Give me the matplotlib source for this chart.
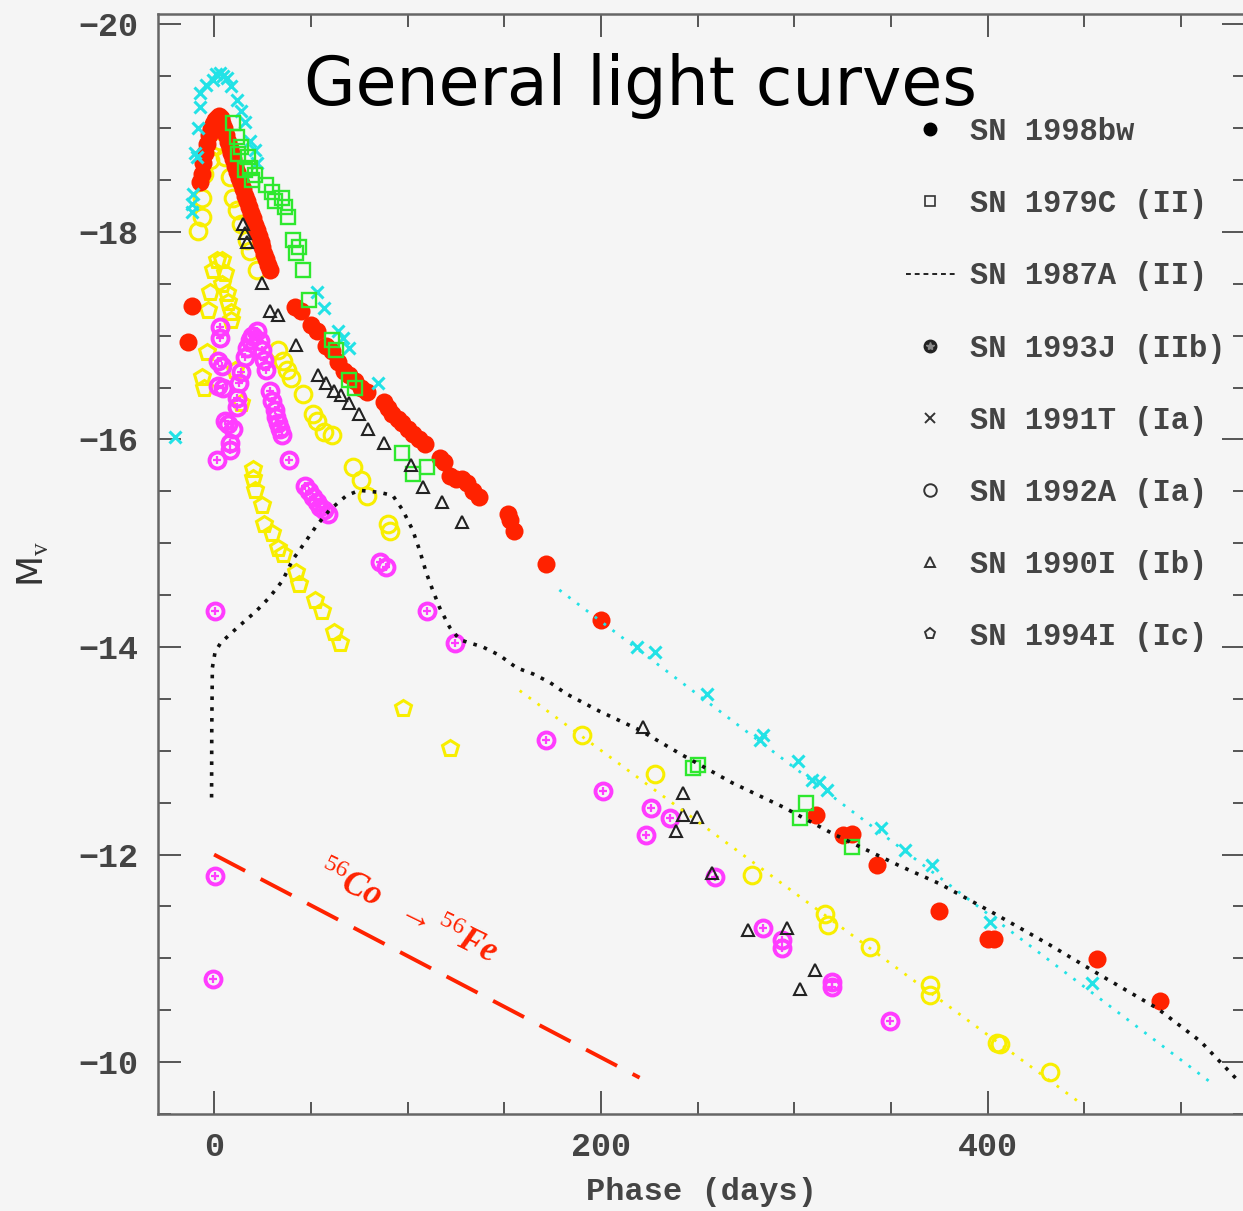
import numpy as np
import matplotlib
matplotlib.use("Agg")
import matplotlib.pyplot as plt
from matplotlib.lines import Line2D
from matplotlib.ticker import MultipleLocator

# ==============================
# Data (phase in days, absolute V magnitude)
# ==============================
sn1998bw = np.array([
    [-13.7, -16.94], [-11.6, -17.29], [-7.5, -18.48], [-6.5, -18.56], [-5.5, -18.66],
    [-4.5, -18.76], [-3.5, -18.85], [-2.5, -18.93], [-1.5, -18.99], [-0.5, -19.04],
    [0.5, -19.08], [1.5, -19.10], [2.5, -19.12], [3.5, -19.10], [4, -19.05],
    [5, -19.00], [6, -18.93], [7, -18.87], [8, -18.81], [9, -18.76],
    [10, -18.70], [11, -18.64], [12, -18.58], [13, -18.52], [14, -18.47],
    [15, -18.41], [16, -18.35], [17, -18.30], [18, -18.24], [19, -18.18],
    [20, -18.13], [21, -18.07], [22, -18.02], [23, -17.96], [24, -17.90],
    [25, -17.85], [26, -17.79], [27, -17.74], [28, -17.68], [29, -17.63],
    [42, -17.28], [45, -17.24], [50, -17.10], [53, -17.05], [58, -16.90],
    [61, -16.85], [64, -16.75], [67, -16.66], [70, -16.62], [73, -16.56],
    [76, -16.50], [79, -16.46], [88, -16.36], [90, -16.30], [92, -16.25],
    [95, -16.20], [97, -16.16], [100, -16.10], [103, -16.05], [106, -16.00],
    [109, -15.96], [117, -15.82], [119, -15.78], [122, -15.65], [125, -15.62],
    [128, -15.62], [131, -15.58], [134, -15.50], [137, -15.45], [152, -15.28],
    [153, -15.22], [155, -15.12], [171.5, -14.80], [200, -14.26], [311, -12.38],
    [325, -12.19], [330, -12.20], [342.5, -11.90], [375, -11.46], [400, -11.19],
    [403, -11.19], [456.5, -10.99], [489, -10.59],
])

sn1979c = np.array([
    [9.6, -19.05], [11.6, -18.91], [12.5, -18.75], [14, -18.82], [16, -18.60],
    [17.3, -18.72], [18.4, -18.62], [19.4, -18.50], [21, -18.55], [27, -18.45],
    [29.7, -18.38], [31.3, -18.30], [35, -18.33], [36.5, -18.24], [38, -18.14],
    [40.6, -17.92], [42.6, -17.80], [44, -17.85], [45.8, -17.63], [49, -17.34],
    [61, -16.96], [63, -16.86], [70, -16.57], [72.7, -16.50], [97, -15.87],
    [103, -15.67], [110, -15.73], [247.5, -12.83], [250, -12.86], [303, -12.35],
    [306, -12.50], [330, -12.07],
])

sn1991t = np.array([
    [-20.4, -16.02], [-11.6, -18.19], [-11.6, -18.27], [-11, -18.37], [-10, -18.76],
    [-9, -18.72], [-8.5, -19.00], [-7.5, -19.20], [-7.5, -19.34], [-4, -19.42],
    [-0.8, -19.46], [1, -19.52], [2.8, -19.53], [4.5, -19.50], [6.5, -19.48],
    [9, -19.41], [11.6, -19.27], [14, -19.17], [15.8, -19.06], [18.4, -18.88],
    [21, -18.79], [22, -18.66], [53, -17.42], [57, -17.27], [64, -17.05],
    [66.6, -16.98], [70, -16.88], [84.7, -16.54], [218.5, -14.00], [228, -13.95],
    [254.6, -13.55], [282, -13.10], [283.7, -13.15], [302, -12.90], [309, -12.72],
    [313, -12.70], [317, -12.62], [345, -12.26], [357, -12.04], [371, -11.90],
    [401, -11.35], [454, -10.76],
])

sn1993j = np.array([
    [-0.7, -10.80], [0.3, -11.79], [0.3, -14.35], [1.3, -15.80], [1.8, -16.52],
    [1.8, -16.76], [2.8, -16.98], [2.8, -17.08], [3.9, -16.71], [4.4, -16.50],
    [5.4, -16.18], [7, -16.15], [8, -15.97], [8, -15.90], [10, -16.10],
    [11.6, -16.31], [12, -16.40], [13, -16.54], [14, -16.65], [15.8, -16.79],
    [17, -16.88], [18.4, -16.96], [19.5, -17.00], [20, -17.00], [22, -17.05],
    [23.5, -16.95], [25, -16.86], [26, -16.77], [27, -16.67], [28.7, -16.47],
    [30, -16.37], [31.3, -16.28], [32, -16.22], [33, -16.16], [34, -16.10],
    [35, -16.04], [38.5, -15.80], [47, -15.55], [49, -15.50], [51, -15.45],
    [53, -15.40], [55, -15.35], [57, -15.32], [59, -15.28], [85.6, -14.82],
    [89, -14.77], [110, -14.35], [124.5, -14.04], [171.5, -13.10], [201, -12.61],
    [223.5, -12.19], [226, -12.45], [235.5, -12.35], [259, -11.78], [284, -11.29],
    [293.5, -11.18], [293.5, -11.10], [319.5, -10.77], [319.5, -10.72], [349.5, -10.40],
])

sn1992a = np.array([
    [-8.5, -18.01], [-6.5, -18.14], [-6, -18.33], [-5, -18.56], [-2.3, -18.69],
    [0.3, -18.83], [2.8, -18.88], [5.4, -18.72], [8, -18.53], [9.6, -18.33],
    [12, -18.21], [14, -18.08], [16.8, -17.92], [18.4, -17.82], [22, -17.63],
    [33, -16.86], [35.4, -16.76], [37.5, -16.67], [40, -16.59], [45.8, -16.44],
    [51, -16.25], [53, -16.18], [57, -16.07], [61, -16.04], [71.7, -15.73],
    [76, -15.61], [79, -15.46], [89.8, -15.19], [91, -15.12], [190, -13.15],
    [228, -12.78], [278, -11.80], [316, -11.43], [317.5, -11.32], [339, -11.11],
    [370, -10.74], [370, -10.65], [405, -10.18], [406.5, -10.17], [432, -9.90],
])

sn1994i = np.array([
    [-6, -16.60], [-5, -16.50], [-3.9, -16.84], [-3.3, -17.25], [-2.3, -17.42],
    [-0.8, -17.63], [1.3, -17.73], [3.9, -17.73], [3.9, -17.50], [5.4, -17.60],
    [6.5, -17.41], [7, -17.32], [9, -17.23], [9, -17.15], [10.6, -16.67],
    [14, -16.35], [20, -15.72], [20, -15.63], [21, -15.51], [25, -15.37],
    [26, -15.19], [30, -15.10], [33, -14.95], [35.4, -14.90], [42.6, -14.72],
    [44, -14.61], [52, -14.45], [55.6, -14.35], [62, -14.14], [65, -14.04],
    [97.5, -13.41], [121.8, -13.03],
])

sn1990i = np.array([
    [15, -18.08], [15.8, -17.99], [16.8, -17.90], [24.6, -17.51], [28.7, -17.24],
    [33, -17.20], [42.6, -16.91], [53.5, -16.62], [58, -16.54], [62, -16.47],
    [65.7, -16.43], [70, -16.35], [75, -16.25], [79.5, -16.10], [88, -15.97],
    [102, -15.75], [108, -15.54], [118, -15.40], [128, -15.20], [222, -13.23],
    [239, -12.23], [242.5, -12.59], [242.5, -12.38], [249.5, -12.36], [257.5, -11.82],
    [276, -11.27], [296, -11.29], [303, -10.70], [310.8, -10.89],
])

sn1987a = np.array([
    [-1.3, -12.55], [-1.2, -13.20], [-0.9, -13.80], [0.5, -13.95], [3.4, -14.04],
    [11.6, -14.18], [22, -14.35], [28.7, -14.48], [35.4, -14.64], [40.6, -14.84],
    [47.8, -15.03], [53, -15.17], [59.7, -15.32], [68.5, -15.46], [75.2, -15.51],
    [85.6, -15.49], [92.4, -15.46], [97.5, -15.32], [102.6, -15.13], [106.3, -14.93],
    [109.8, -14.71], [113, -14.55], [116.6, -14.38], [121.8, -14.19], [127, -14.07],
    [139, -14.00], [147.6, -13.92], [156.4, -13.80], [165, -13.74], [173.5, -13.66],
    [182, -13.55], [199.4, -13.38], [220, -13.20], [242, -12.96], [268, -12.69],
    [294, -12.46], [320, -12.20], [354.6, -11.89], [375, -11.72], [402.6, -11.44],
    [432, -11.13], [458, -10.84], [487.5, -10.52], [510, -10.20], [530, -9.81],
])

# tail fits and radioactive decay slope
fit_1991t = np.array([[178.5, -14.55], [517, -9.78]])
fit_1992a = np.array([[158, -13.58], [449, -9.59]])
co_decay = np.array([[0, -12.0], [220, -9.85]])

labels = ["SN 1998bw", "SN 1979C (II)", "SN 1987A (II)", "SN 1993J (IIb)",
          "SN 1991T (Ia)", "SN 1992A (Ia)", "SN 1990I (Ib)", "SN 1994I (Ic)"]

# ==============================
# Style
# ==============================
bg = "#f5f5f5"
red = "#ff2200"
green = "#2ee82e"
cyan = "#22e2e6"
yellow = "#f8ee00"
magenta = "#ff3cff"
txt = "#333333"
mono = ["Liberation Mono", "DejaVu Sans Mono"]

plt.rcParams["mathtext.fontset"] = "custom"
plt.rcParams["mathtext.rm"] = "Liberation Serif"
plt.rcParams["mathtext.it"] = "Liberation Serif:italic:bold"

fig = plt.figure(figsize=(12.43, 12.11), dpi=100, facecolor=bg)
ax = fig.add_axes([158 / 1243, 1 - 1114 / 1211, 1087 / 1243, 1100 / 1211])
ax.set_facecolor(bg)

# ==============================
# Plot series
# ==============================
ax.plot(sn1994i[:, 0], sn1994i[:, 1], "p", mfc="none", mec=yellow, ms=12, mew=2.2)
ax.plot(sn1992a[:, 0], sn1992a[:, 1], "o", mfc="none", mec=yellow, ms=12, mew=2.2)
ax.plot(sn1993j[:, 0], sn1993j[:, 1], "o", mfc="none", mec=magenta, ms=11.5, mew=2.8)
ax.plot(sn1993j[:, 0], sn1993j[:, 1], "+", color=magenta, ms=6, mew=1.6)
ax.plot(sn1998bw[:, 0], sn1998bw[:, 1], "o", color=red, ms=13, mew=0)
ax.plot(sn1991t[:, 0], sn1991t[:, 1], "x", color=cyan, ms=9, mew=2.2)
ax.plot(sn1979c[:, 0], sn1979c[:, 1], "s", mfc="none", mec=green, ms=9.5, mew=1.7)
ax.plot(sn1990i[:, 0], sn1990i[:, 1], "^", mfc="none", mec="#222222", ms=9, mew=1.5)

ax.plot(sn1987a[:, 0], sn1987a[:, 1], color="#111111", lw=2.6, ls=(0, (1, 2)))
ax.plot(fit_1991t[:, 0], fit_1991t[:, 1], color=cyan, lw=2, ls=(0, (1, 3)))
ax.plot(fit_1992a[:, 0], fit_1992a[:, 1], color=yellow, lw=2, ls=(0, (1, 3)))
ax.plot(co_decay[:, 0], co_decay[:, 1], color=red, lw=2.8, ls=(0, (9, 4.5)))

ax.text(100, -11.45, r"$^{56}Co\ \ \rightarrow^{56}Fe$", color=red, fontsize=25,
        rotation=-26, rotation_mode="anchor", ha="center", va="center")

# ==============================
# Axes
# ==============================
ax.set_xlim(-29, 533)
ax.set_ylim(-9.5, -20.1)
ax.xaxis.set_major_locator(MultipleLocator(200))
ax.xaxis.set_minor_locator(MultipleLocator(50))
ax.yaxis.set_major_locator(MultipleLocator(2))
ax.yaxis.set_minor_locator(MultipleLocator(0.5))
ax.tick_params(which="both", direction="in", top=True, right=True,
               color="#555555", width=1.4)
ax.tick_params(which="major", length=16.5)
ax.tick_params(which="minor", length=9)
ax.tick_params(axis="x", pad=13)
ax.tick_params(axis="y", pad=14)
for lab in ax.get_xticklabels() + ax.get_yticklabels():
    lab.set_family(mono)
    lab.set_fontsize(24)
    lab.set_weight("bold")
    lab.set_color("#444444")
for s in ax.spines.values():
    s.set_color("#666666")
    s.set_linewidth(1.8)

ax.set_xlabel("Phase (days)", family=mono, fontsize=23, weight="bold",
              color="#444444", labelpad=10)
ax.set_ylabel(r"M$_{\rm v}$", fontsize=26, color=txt, labelpad=20)

# ==============================
# Legend
# ==============================
handles = [
    Line2D([], [], ls="none", marker="o", color="k", ms=9),
    Line2D([], [], ls="none", marker="s", mfc="none", mec="#333333", ms=7, mew=1.2),
    Line2D([], [], color="#222222", lw=1.4, ls=(0, (2.5, 2))),
    (Line2D([], [], ls="none", marker="o", color="#222222", ms=9),
     Line2D([], [], ls="none", marker="*", color="#888888", ms=6)),
    Line2D([], [], ls="none", marker="x", color="#333333", ms=7, mew=1.4),
    Line2D([], [], ls="none", marker="o", mfc="none", mec="#333333", ms=9, mew=1.4),
    Line2D([], [], ls="none", marker="^", mfc="none", mec="#333333", ms=7, mew=1.4),
    Line2D([], [], ls="none", marker="p", mfc="none", mec="#333333", ms=8, mew=1.4),
]
leg = ax.legend(handles, labels, loc="upper left",
                bbox_to_anchor=(906 / 1243, 1 - 117 / 1211), bbox_transform=fig.transFigure,
                frameon=False, prop={"family": mono, "size": 22, "weight": "bold"},
                labelcolor="#444444",
                labelspacing=1.38, handlelength=1.6, handletextpad=0.5,
                borderpad=0, borderaxespad=0)

fig.text(640 / 1243, 1 - 105 / 1211, "General light curves", fontsize=48,
         family="DejaVu Sans", color="black", ha="center", va="baseline")

fig.savefig("out.png", dpi=100, facecolor=bg)
